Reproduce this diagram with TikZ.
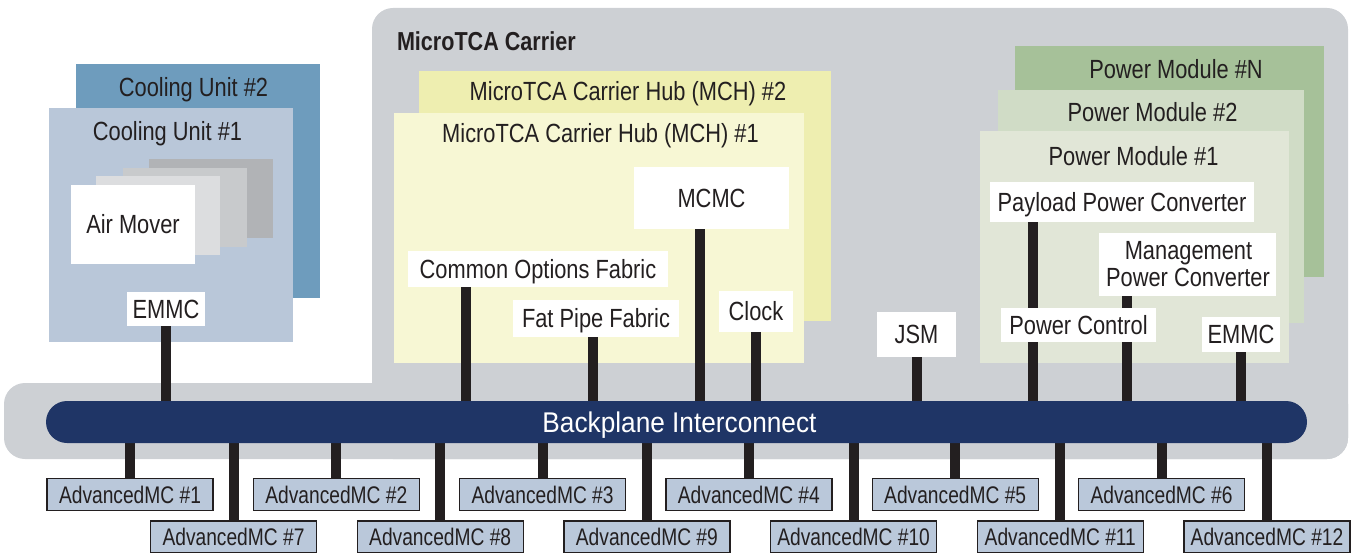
\documentclass[tikz,border=0pt]{standalone}
\usepackage{fontspec}
\setmainfont{Liberation Sans}[FakeStretch=0.83]
\newfontfamily\bpfont{Liberation Sans}[FakeStretch=0.92]
\newfontfamily\amcfont{Liberation Sans}[FakeStretch=0.8]
\usetikzlibrary{calc}
\pgfdeclarelayer{back}
\pgfdeclarelayer{wires}
\pgfsetlayers{back,wires,main}
\definecolor{ink}{HTML}{231F20}
\definecolor{carrier}{HTML}{CDD0D4}
\definecolor{navy}{HTML}{1F3566}
\definecolor{cutwo}{HTML}{6E9CBD}
\definecolor{cuone}{HTML}{B9C7D9}
\definecolor{amthree}{HTML}{B1B3B6}
\definecolor{amtwo}{HTML}{C8CACC}
\definecolor{amone}{HTML}{DCDDDF}
\definecolor{mchtwo}{HTML}{EEEEB0}
\definecolor{mchone}{HTML}{F7F7D4}
\definecolor{pmn}{HTML}{A6C199}
\definecolor{pmtwo}{HTML}{D0DCC6}
\definecolor{pmone}{HTML}{E1E6D7}
\definecolor{amcfill}{HTML}{BAC8DA}
\begin{document}
\begin{tikzpicture}[x=1pt,y=-1pt,
  lbl/.style={inner sep=0pt, outer sep=0pt, text=ink, font=\fontsize{26.3}{30}\selectfont, text height=18.8pt, text depth=0pt},
  wbox/.style={lbl, fill=white},
  plate/.style={inner sep=0pt, outer sep=0pt},
  amc/.style={draw=ink, line width=1.4pt, fill=amcfill, inner sep=0pt, minimum width=166pt, minimum height=32pt, text=ink, font=\amcfont\fontsize{24}{26}\selectfont, text height=17.2pt, text depth=0pt},
  wire/.style={draw=ink, line width=10pt},
]
\useasboundingbox (0,0) rectangle (1356,553);

\begin{pgfonlayer}{back}
\fill[carrier, rounded corners=21pt] (372,8) rectangle (1348,459);
\fill[carrier, rounded corners=21pt] (4,383) rectangle (1348,459);
% cooling units
\node[plate, fill=cutwo, minimum width=244pt, minimum height=234pt] (cu2) at (198,181) {};
\node[plate, fill=cuone, minimum width=244pt, minimum height=234pt] (cu1) at (171,225) {};
\node[plate, fill=amthree, minimum width=124pt, minimum height=79pt] (am3) at (211,198.5) {};
\node[plate, fill=amtwo, minimum width=124pt, minimum height=79pt] (am2) at (185,207.5) {};
\node[plate, fill=amone, minimum width=124pt, minimum height=79pt] (am1) at (158,215.5) {};
% MCH
\node[plate, fill=mchtwo, minimum width=412pt, minimum height=250pt] (mch2) at (625,196) {};
\node[plate, fill=mchone, minimum width=410pt, minimum height=250pt] (mch1) at (599,238) {};
% power modules
\node[plate, fill=pmn, minimum width=309pt, minimum height=231pt] (pmN) at (1169.5,161.5) {};
\node[plate, fill=pmtwo, minimum width=306pt, minimum height=233pt] (pm2) at (1151,206.5) {};
\node[plate, fill=pmone, minimum width=309pt, minimum height=232pt] (pm1) at (1134.5,247) {};
\end{pgfonlayer}

% container labels
\node[lbl, anchor=west, font=\bfseries\fontsize{26}{30}\selectfont] (title) at (397,41.5) {MicroTCA Carrier};
\node[lbl] (cu2l) at (193.5,87) {Cooling Unit \#2};
\node[lbl] (cu1l) at (167.5,131) {Cooling Unit \#1};
\node[lbl] (mch2l) at (628,91.5) {MicroTCA Carrier Hub (MCH) \#2};
\node[lbl] (mch1l) at (600.5,133.5) {MicroTCA Carrier Hub (MCH) \#1};
\node[lbl] (pmNl) at (1176,69) {Power Module \#N};
\node[lbl] (pm2l) at (1152.5,112) {Power Module \#2};
\node[lbl] (pm1l) at (1133.5,156) {Power Module \#1};

% white boxes
\node[wbox, minimum width=124pt, minimum height=79pt] (air) at (133,224.5) {Air Mover};
\node[wbox, minimum width=78pt, minimum height=34pt] (emmc1) at (166,309) {EMMC};
\node[wbox, minimum width=155pt, minimum height=62pt] (mcmc) at (711.5,198) {MCMC};
\node[wbox, minimum width=260pt, minimum height=36pt] (cof) at (538,269) {Common Options Fabric};
\node[wbox, minimum width=166pt, minimum height=37pt] (fpf) at (596,318.5) {Fat Pipe Fabric};
\node[wbox, minimum width=74pt, minimum height=41pt] (clk) at (756,311.5) {Clock};
\node[wbox, minimum width=79pt, minimum height=45pt] (jsm) at (916.5,334.5) {JSM};
\node[wbox, minimum width=264pt, minimum height=40pt] (ppc) at (1122,202) {Payload Power Converter};
\node[wbox, minimum width=177pt, minimum height=63pt] (mpc) at (1187.5,264.5) {};
\node[lbl] (mpcl1) at (1188.5,250.5) {Management};
\node[lbl] (mpcl2) at (1188,277) {Power Converter};
\node[wbox, minimum width=155pt, minimum height=34pt] (pc) at (1078.5,325) {Power Control};
\node[wbox, minimum width=78pt, minimum height=35pt] (emmc2) at (1241,334.5) {EMMC};

% backplane
\node[plate, fill=navy, rounded corners=21pt, minimum width=1261pt, minimum height=42pt] (bp) at (676.5,422) {};
\node[lbl, text=white, font=\bpfont\fontsize{28.5}{32}\selectfont, text height=20.4pt] (bpl) at (679.5,422) {Backplane Interconnect};

% AdvancedMC boxes
\foreach \i in {1,...,6} {
  \node[amc] (amc\i) at ({130+206.3*(\i-1)},494.5) {AdvancedMC \#\i};
}
\foreach \i in {1,...,6} {
  \pgfmathtruncatemacro\n{\i+6}
  \node[amc] (amc\n) at ({233.5+206.7*(\i-1)},537) {AdvancedMC \#\n};
}

% wire anchor points
\coordinate (cofw) at ([xshift=-72pt]cof.center);
\coordinate (fpfw) at ([xshift=-3pt]fpf.center);
\coordinate (mcmcw) at ([xshift=-11.5pt]mcmc.center);
\coordinate (ppcw) at ([xshift=-89pt]ppc.center);
\coordinate (mpcw) at ([xshift=-60.5pt]mpc.center);

\begin{pgfonlayer}{wires}
\draw[wire] (emmc1.center) -- (emmc1.center |- bp.center);
\draw[wire] (cofw) -- (cofw |- bp.center);
\draw[wire] (fpfw) -- (fpfw |- bp.center);
\draw[wire] (mcmcw) -- (mcmcw |- bp.center);
\draw[wire] (clk.center) -- (clk.center |- bp.center);
\draw[wire] (jsm.center) -- (jsm.center |- bp.center);
\draw[wire] (ppcw) -- (ppcw |- bp.center);
\draw[wire] (mpcw) -- (mpcw |- bp.center);
\draw[wire] (emmc2.center) -- (emmc2.center |- bp.center);
\foreach \i in {1,...,12} {
  \draw[wire] (amc\i.center) -- (amc\i.center |- bp.center);
}
\end{pgfonlayer}
\end{tikzpicture}
\end{document}
